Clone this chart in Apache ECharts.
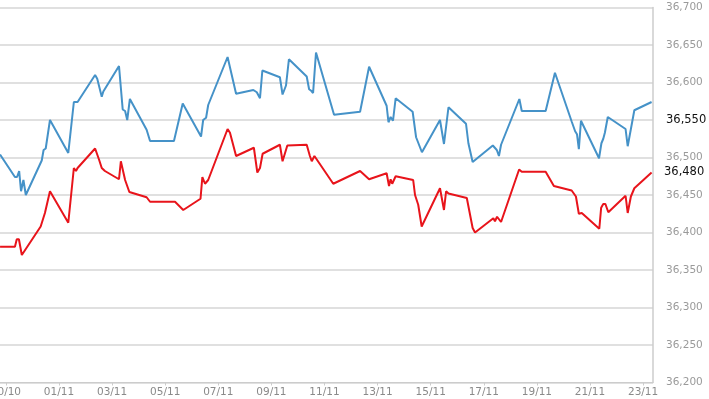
<!DOCTYPE html>
<html><head><meta charset="utf-8">
<script src="https://cdn.jsdelivr.net/npm/echarts@6/dist/echarts.min.js"></script>
<style>html,body{margin:0;padding:0;background:#fff;overflow:hidden}#c{width:709px;height:399px}</style>
</head><body><div id="c"></div>
<script>
// x values: days since 30/10 (fractional)
const tickLabels = ['30/10','01/11','03/11','05/11','07/11','09/11','11/11','13/11','15/11','17/11','19/11','21/11','23/11'];
const tickDays = [0,2,4,6,8,10,12,14,16,18,20,22,24];
const xRange = [-0.222, 24.373];
const yTicks = [36200, 36700, 50];
const highlightTick = 36550;

const blueT = [-0.22,0.34,0.42,0.50,0.57,0.66,0.75,1.35,1.42,1.50,1.66,2.35,2.56,2.70,3.36,3.44,3.61,3.67,4.26,4.40,4.49,4.57,4.67,5.30,5.43,6.33,6.66,7.35,7.43,7.54,7.62,8.35,8.67,9.32,9.45,9.57,9.66,10.32,10.42,10.55,10.66,11.33,11.42,11.50,11.57,11.68,12.36,13.34,13.68,14.34,14.41,14.49,14.58,14.68,15.32,15.45,15.50,15.67,16.35,16.50,16.67,17.33,17.42,17.58,18.34,18.49,18.57,18.65,19.34,19.43,20.33,20.68,21.31,21.44,21.51,21.58,21.66,22.34,22.43,22.50,22.56,22.67,23.34,23.42,23.54,23.67,24.32];
const blueV = [36504,36474,36474,36482,36455,36470,36450,36496,36510,36512,36550,36506,36574,36574,36610,36605,36581,36588,36622,36564,36562,36550,36578,36537,36522,36522,36572,36528,36550,36553,36570,36634,36585,36590,36587,36579,36616,36607,36584,36596,36631,36608,36591,36589,36586,36640,36557,36561,36621,36569,36547,36554,36549,36579,36561,36527,36527,36507,36550,36518,36567,36545,36519,36494,36516,36510,36502,36517,36578,36562,36562,36613,36548,36535,36531,36511,36549,36499,36519,36525,36533,36554,36538,36515,36538,36563,36574];

const redT = [-0.22,0.34,0.41,0.49,0.60,1.31,1.47,1.66,2.35,2.56,2.64,2.70,3.36,3.51,3.61,3.73,4.26,4.33,4.49,4.65,5.30,5.43,6.37,6.68,7.33,7.40,7.50,7.62,8.35,8.44,8.67,9.34,9.47,9.57,9.67,10.32,10.42,10.60,11.33,11.45,11.52,11.62,12.33,13.34,13.68,14.34,14.43,14.49,14.55,14.68,15.34,15.41,15.53,15.66,16.35,16.50,16.58,16.67,17.36,17.58,17.67,18.36,18.42,18.50,18.65,19.33,19.43,20.33,20.64,21.31,21.47,21.58,21.69,22.35,22.42,22.50,22.58,22.69,23.34,23.42,23.54,23.67,24.32];
const redV = [36381,36381,36391,36391,36370,36408,36426,36455,36413,36486,36482,36486,36512,36497,36486,36482,36471,36495,36470,36454,36447,36441,36441,36430,36445,36474,36465,36470,36538,36533,36502,36513,36480,36486,36505,36517,36495,36516,36517,36502,36495,36502,36465,36482,36471,36479,36462,36471,36465,36475,36470,36450,36437,36408,36459,36430,36455,36452,36446,36406,36400,36419,36415,36421,36414,36484,36481,36481,36462,36456,36448,36425,36426,36405,36433,36438,36438,36427,36449,36426,36448,36459,36480];

const zip = (t, v) => t.map((x, i) => [x, v[i]]);
const fmt = n => String(n).replace(/\B(?=(\d{3})+(?!\d))/g, ',');
const lastRed = redV[redV.length - 1];
const FONT = 'DejaVu Sans';

const chart = echarts.init(document.getElementById('c'));
chart.setOption({
  animation: false,
  grid: {left: 0, right: 56, top: 7.5, bottom: 16.5, containLabel: false, outerBoundsMode: 'none'},
  xAxis: {
    type: 'value', min: xRange[0], max: xRange[1],
    axisLine: {show: true, onZero: false, lineStyle: {color: '#cccccc', width: 1}},
    axisTick: {show: true, length: 3, customValues: tickDays, lineStyle: {color: '#cccccc'}},
    splitLine: {show: false},
    axisLabel: {
      show: true, margin: 4, color: '#8a8a8a', fontSize: 10.5, fontFamily: FONT,
      customValues: tickDays,
      formatter: v => { const i = tickDays.indexOf(Math.round(v)); return i >= 0 ? tickLabels[i] : ''; }
    }
  },
  yAxis: {
    type: 'value', position: 'right', min: yTicks[0], max: yTicks[1], interval: yTicks[2],
    axisLine: {show: true, onZero: false, lineStyle: {color: '#cccccc', width: 1.5}},
    axisTick: {show: false},
    splitLine: {show: true, lineStyle: {color: '#d6d6d6', width: 1.5}},
    axisLabel: {
      margin: 13, color: '#9a9a9a', fontSize: 10.5, fontFamily: FONT,
      formatter: v => v === highlightTick ? '{b|' + fmt(v) + '}' : fmt(v),
      rich: {b: {color: '#111', fontSize: 11.5, fontFamily: FONT}}
    }
  },
  series: [
    {type: 'line', data: zip(blueT, blueV), showSymbol: false, symbol: 'none',
     lineStyle: {color: '#4592c8', width: 2}, itemStyle: {color: '#4592c8'}, z: 2},
    {type: 'line', data: zip(redT, redV), showSymbol: false, symbol: 'none',
     lineStyle: {color: '#e8141b', width: 2}, itemStyle: {color: '#e8141b'}, z: 3,
     markLine: {
       silent: true, symbol: 'none', animation: false,
       lineStyle: {color: 'rgba(0,0,0,0)', width: 0, type: 'solid'},
       label: {show: true, position: 'end', distance: 11, color: '#111', fontSize: 11.5, fontFamily: FONT, formatter: () => fmt(lastRed)},
       data: [{yAxis: lastRed}]
     }}
  ]
});
</script></body></html>
